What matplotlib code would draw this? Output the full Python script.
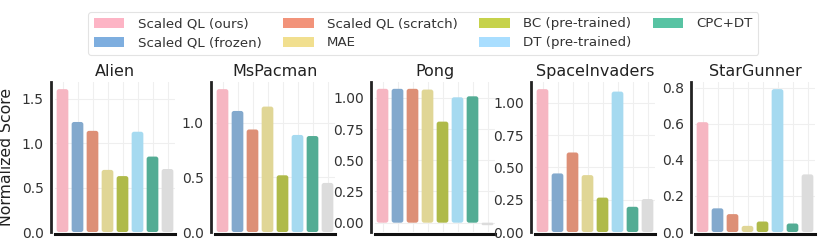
import matplotlib
matplotlib.use("Agg")
import matplotlib.pyplot as plt
from matplotlib.patches import FancyBboxPatch, Patch

games = ["Alien", "MsPacman", "Pong", "SpaceInvaders", "StarGunner"]
methods = ["Scaled QL (ours)", "Scaled QL (frozen)", "Scaled QL (scratch)", "MAE",
           "BC (pre-trained)", "DT (pre-trained)", "CPC+DT", None]

alien = [1.61, 1.24, 1.14, 0.70, 0.63, 1.13, 0.85, 0.71]
mspacman = [1.31, 1.11, 0.94, 1.15, 0.52, 0.89, 0.88, 0.45]
pong = [1.073, 1.073, 1.073, 1.067, 0.81, 1.005, 1.013, -0.02]
spaceinvaders = [1.105, 0.453, 0.615, 0.44, 0.266, 1.086, 0.195, 0.255]
stargunner = [0.608, 0.131, 0.099, 0.034, 0.058, 0.791, 0.047, 0.319]
values = [alien, mspacman, pong, spaceinvaders, stargunner]

yticks = [[0.0, 0.5, 1.0, 1.5], [0.0, 0.5, 1.0], [0.0, 0.25, 0.5, 0.75, 1.0],
          [0.0, 0.25, 0.5, 0.75, 1.0], [0.0, 0.2, 0.4, 0.6, 0.8]]
yfmt = ["{:.1f}", "{:.1f}", "{:.2f}", "{:.2f}", "{:.1f}"]

legend_colors = ["#FDB4C5", "#7EAEDF", "#F2937A", "#F1DF8F", "#C6D24B", "#A9DEFF", "#58C3A3"]
bar_colors = ["#F6B6C2", "#83A9CD", "#DD8F76", "#E0D696", "#AFBA49", "#A6DAF0", "#53AC94", "#DCDCDC"]

W, H, DPI = 822, 245, 100
fig = plt.figure(figsize=(W / DPI, H / DPI), dpi=DPI)

ax_w, ax_h = 120, 150
left0, pitch, top_px = 55, 160, 82
text_col = "#333333"

for i, (g, vals) in enumerate(zip(games, values)):
    x0 = left0 + i * pitch
    ax = fig.add_axes([x0 / W, 1 - (top_px + ax_h) / H, ax_w / W, ax_h / H])
    n = len(vals)
    xs = list(range(n))
    ymax = max(vals)
    ymin = min(0, min(vals))
    rng = ymax - ymin
    ax.set_xlim(-0.5, n - 0.5)
    ax.set_ylim(ymin - 0.05 * rng if ymin < 0 else 0, ymax + 0.05 * rng)
    ylo, yhi = ax.get_ylim()
    aspect = ((yhi - ylo) / ax_h) / ((n) / ax_w)
    bw = 0.78
    r = 0.16
    for x, v, c in zip(xs, vals, bar_colors):
        h = abs(v)
        y = min(0, v)
        rr = min(r, h / aspect / 2 * 0.999) if h > 0 else 0.0
        p = FancyBboxPatch((x - bw / 2, y), bw, h,
                           boxstyle=f"round,pad=0,rounding_size={rr}",
                           mutation_aspect=aspect, facecolor=c, edgecolor="none",
                           zorder=3)
        ax.add_patch(p)
    ax.set_xticks(xs)
    ax.set_xticklabels([])
    ax.set_yticks(yticks[i])
    ax.set_yticklabels([yfmt[i].format(t) for t in yticks[i]])
    ax.tick_params(axis="both", length=0, labelsize=10, colors=text_col, pad=5)
    ax.grid(True, color="#EFEFEF", linewidth=0.8, zorder=0)
    ax.set_axisbelow(True)
    for s in ["top", "right"]:
        ax.spines[s].set_visible(False)
    ax.spines["left"].set_position(("outward", 3))
    ax.spines["left"].set_linewidth(2.0)
    ax.spines["left"].set_color("#222222")
    ax.spines["bottom"].set_position(("outward", 1.5))
    ax.spines["bottom"].set_linewidth(2.2)
    ax.spines["bottom"].set_color("#111111")
    ax.set_title(g, fontsize=11.5, color="#222222", pad=4)
    if i == 0:
        ax.set_ylabel("Normalized Score", fontsize=11.3, color="#222222", labelpad=6)

handles = [Patch(facecolor=c, edgecolor="none", label=m)
           for c, m in zip(legend_colors, methods[:7])]
leg = fig.legend(handles=handles, loc="upper center", bbox_to_anchor=(0.515, 0.978),
                 ncol=4, fontsize=9.6, frameon=True, handlelength=2.3, handleheight=0.8,
                 columnspacing=1.6, labelspacing=0.45, borderpad=0.4, handletextpad=1.0)
leg.get_frame().set_edgecolor("#DDDDDD")
leg.get_frame().set_linewidth(0.8)
for t in leg.get_texts():
    t.set_color(text_col)

fig.savefig("out.png", dpi=DPI)
